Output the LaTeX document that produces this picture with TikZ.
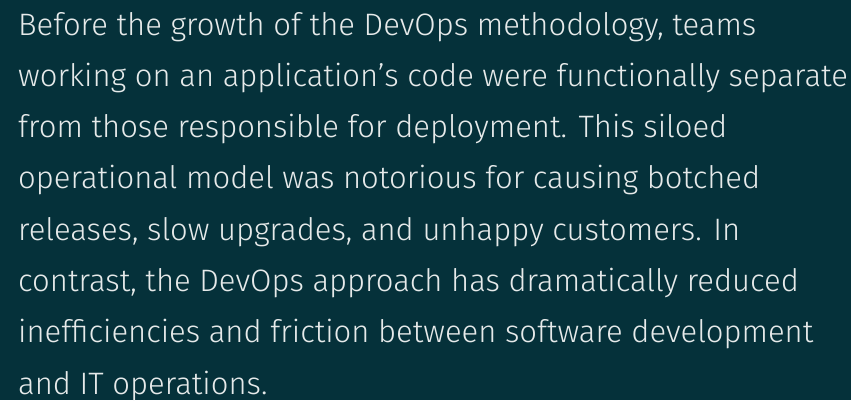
\documentclass[tikz,border=0pt]{standalone}
\usepackage{fontspec}
\setmainfont{Fira Sans}[UprightFont=* Light]
\definecolor{bgteal}{HTML}{05313A}
\definecolor{txt}{HTML}{E6EAEA}
\begin{document}
\begin{tikzpicture}[x=1pt,y=-1pt,
  line/.style={anchor=base west,inner sep=0pt,text=txt,font=\fontsize{31}{31}\selectfont}]
\fill[bgteal] (0,0) rectangle (851,400);
\useasboundingbox (0,0) rectangle (851,400);
\node[line] (l1) at (18,35) {Before the growth of the DevOps methodology, teams};
\node[line] (l2) at (18,86.3) {working on an application’s code were functionally separate};
\node[line] (l3) at (18,137.6) {from those responsible for deployment. This siloed};
\node[line] (l4) at (18,188.9) {operational model was notorious for causing botched};
\node[line] (l5) at (18,240.2) {releases, slow upgrades, and unhappy customers. In};
\node[line] (l6) at (18,291.5) {contrast, the DevOps approach has dramatically reduced};
\node[line] (l7) at (18,342.8) {inefficiencies and friction between software development};
\node[line] (l8) at (18,394.1) {and IT operations.};
\end{tikzpicture}
\end{document}
